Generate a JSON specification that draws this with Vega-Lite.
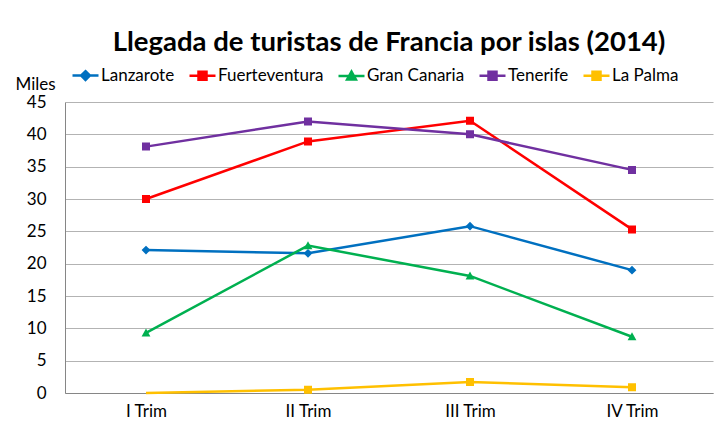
{
  "$schema": "https://vega.github.io/schema/vega-lite/v6.json",
  "width": 648,
  "height": 291,
  "autosize": "none",
  "padding": {"left": 65, "top": 102, "right": 6, "bottom": 39},
  "config": {"font": "Lato", "view": {"stroke": null}},
  "title": {"text": "Llegada de turistas de Francia por islas (2014)", "fontSize": 27.5, "fontWeight": "bold", "color": "#000000", "anchor": "middle", "offset": 11},
  "data": {"values": [
    {"trim": "I Trim", "isla": "Lanzarote", "value": 22.1},
    {"trim": "II Trim", "isla": "Lanzarote", "value": 21.6},
    {"trim": "III Trim", "isla": "Lanzarote", "value": 25.8},
    {"trim": "IV Trim", "isla": "Lanzarote", "value": 19.0},
    {"trim": "I Trim", "isla": "Fuerteventura", "value": 30.0},
    {"trim": "II Trim", "isla": "Fuerteventura", "value": 38.9},
    {"trim": "III Trim", "isla": "Fuerteventura", "value": 42.1},
    {"trim": "IV Trim", "isla": "Fuerteventura", "value": 25.3},
    {"trim": "I Trim", "isla": "Gran Canaria", "value": 9.3},
    {"trim": "II Trim", "isla": "Gran Canaria", "value": 22.8},
    {"trim": "III Trim", "isla": "Gran Canaria", "value": 18.1},
    {"trim": "IV Trim", "isla": "Gran Canaria", "value": 8.7},
    {"trim": "I Trim", "isla": "Tenerife", "value": 38.1},
    {"trim": "II Trim", "isla": "Tenerife", "value": 42.0},
    {"trim": "III Trim", "isla": "Tenerife", "value": 40.0},
    {"trim": "IV Trim", "isla": "Tenerife", "value": 34.5},
    {"trim": "I Trim", "isla": "La Palma", "value": 0.0},
    {"trim": "II Trim", "isla": "La Palma", "value": 0.5},
    {"trim": "III Trim", "isla": "La Palma", "value": 1.7},
    {"trim": "IV Trim", "isla": "La Palma", "value": 0.9}
  ]},
  "encoding": {
    "x": {"field": "trim", "type": "ordinal", "sort": ["I Trim", "II Trim", "III Trim", "IV Trim"],
      "axis": {"title": null, "labelAngle": 0, "labelFontSize": 17, "labelColor": "#000000", "labelPadding": 10, "ticks": false, "domainColor": "#868686", "grid": false}},
    "y": {"field": "value", "type": "quantitative", "scale": {"domain": [0, 45], "nice": false},
      "axis": {"title": "Miles", "titleAngle": 0, "titleAlign": "left", "titleBaseline": "alphabetic", "titleX": -50, "titleY": -13, "titleFontSize": 17, "titleFontWeight": "normal", "titleColor": "#000000", "labelFontSize": 17, "labelColor": "#000000", "labelPadding": 19, "ticks": false, "domainColor": "#868686", "gridColor": "#b3b3b3", "values": [0, 5, 10, 15, 20, 25, 30, 35, 40, 45]}},
    "color": {"field": "isla", "type": "nominal",
      "scale": {"domain": ["Lanzarote", "Fuerteventura", "Gran Canaria", "Tenerife", "La Palma"], "range": ["#0070C0", "#FF0000", "#00B050", "#7030A0", "#FFC000"]},
      "legend": {"title": null, "orient": "none", "direction": "horizontal", "legendX": 12, "legendY": -35, "symbolSize": 64, "symbolStrokeWidth": 2.5, "labelFontSize": 17, "labelColor": "#000000", "labelOffset": 7, "columnPadding": 9,
        "encode": {"symbols": {"update": {"fill": {"scale": "color", "field": "value"}, "stroke": {"scale": "color", "field": "value"}, "strokeWidth": {"value": 2.5}, "opacity": {"value": 1}}}}}}
  },
  "layer": [
    {"mark": {"type": "line", "strokeWidth": 2.5}},
    {"transform": [{"filter": "datum.value > 0"}],
     "mark": {"type": "point", "filled": true, "opacity": 1, "size": 64},
     "encoding": {
       "shape": {"field": "isla", "type": "nominal",
         "scale": {"domain": ["Lanzarote", "Fuerteventura", "Gran Canaria", "Tenerife", "La Palma"],
           "range": ["M0,-1.1L1.1,0L0,1.1L-1.1,0ZM-3.25,0H3.25", "M-1,-1H1V1H-1ZM-3.25,0H3.25", "M0,-1.1L1.1,0.9H-1.1ZM-3.25,0H3.25", "M-1,-1H1V1H-1ZM-3.25,0H3.25", "M-1,-1H1V1H-1ZM-3.25,0H3.25"]},
         "legend": {"title": null, "orient": "none", "direction": "horizontal", "legendX": 12, "legendY": -35, "symbolSize": 64, "symbolStrokeWidth": 2.5, "labelFontSize": 17, "labelColor": "#000000", "labelOffset": 7, "columnPadding": 9,
           "encode": {"symbols": {"update": {"fill": {"scale": "color", "field": "value"}, "stroke": {"scale": "color", "field": "value"}, "strokeWidth": {"value": 2.5}, "opacity": {"value": 1}}}}}}
     }}
  ]
}
